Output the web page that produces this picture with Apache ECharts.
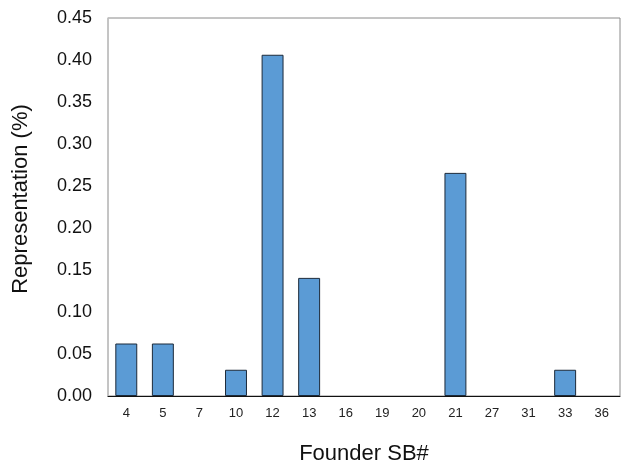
<!DOCTYPE html>
<html>
<head>
<meta charset="utf-8">
<script src="https://cdn.jsdelivr.net/npm/echarts@6/dist/echarts.min.js"></script>
<style>html,body{margin:0;padding:0;background:#fff;}#c{width:621px;height:464px;}</style>
</head>
<body>
<div id="c"></div>
<script>
var categories = ['4','5','7','10','12','13','16','19','20','21','27','31','33','36'];
var values = [0.0625, 0.0625, 0, 0.03125, 0.40625, 0.140625, 0, 0, 0, 0.265625, 0, 0, 0.03125, 0];
var yMin = 0, yMax = 0.45, yStep = 0.05;

var chart = echarts.init(document.getElementById('c'));
chart.setOption({
  animation: false,
  backgroundColor: '#fff',
  textStyle: { fontFamily: 'Liberation Sans, Arial, sans-serif' },
  grid: { left: 108, top: 18, right: 1, bottom: 68, show: true, borderColor: '#8a8a8a', borderWidth: 1, containLabel: false, outerBoundsMode: 'none' },
  xAxis: {
    type: 'category',
    data: categories,
    name: 'Founder SB#',
    nameLocation: 'middle',
    nameGap: 47,
    nameTextStyle: { fontSize: 22, color: '#111' },
    axisLine: { lineStyle: { color: '#111', width: 1 } },
    axisTick: { show: false },
    axisLabel: { fontSize: 13, color: '#222', margin: 11, interval: 0 }
  },
  yAxis: {
    type: 'value',
    min: yMin, max: yMax, interval: yStep,
    name: 'Representation (%)',
    nameLocation: 'middle',
    nameGap: 76,
    nameTextStyle: { fontSize: 22, color: '#111', padding: [0, 0, 0, 16] },
    axisLine: { show: true, lineStyle: { color: '#c4c4c4', width: 1.5 } },
    axisTick: { show: false },
    splitLine: { show: false },
    axisLabel: { fontSize: 18, color: '#111', margin: 16, formatter: function (v) { return v.toFixed(2); } }
  },
  series: [{
    type: 'bar',
    data: values.map(function (v) { return v === 0 ? '-' : v; }),
    barWidth: '60%',
    itemStyle: { color: '#5b9bd5', borderColor: '#1c2a3a', borderWidth: 1 }
  }]
});
</script>
</body>
</html>
